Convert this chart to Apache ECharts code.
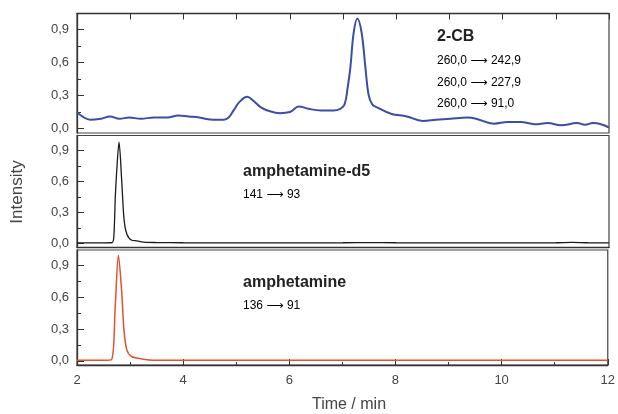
<!DOCTYPE html>
<html>
<head>
<meta charset="utf-8">
<script src="https://cdn.jsdelivr.net/npm/echarts@6/dist/echarts.min.js"></script>
<style>html,body{margin:0;padding:0;background:#fff;}#c{width:618px;height:414px;}</style>
</head>
<body>
<div id="c"></div>
<script>
// ---- data ----
var cbTime = [2.0,2.1,2.25,2.45,2.62,2.8,2.98,3.2,3.45,3.7,3.9,4.1,4.3,4.57,4.76,4.85,4.95,5.05,5.2,5.32,5.45,5.58,5.82,6.0,6.17,6.35,6.58,6.82,6.95,7.03,7.09,7.14,7.2,7.27,7.35,7.42,7.48,7.55,7.65,7.9,8.2,8.5,8.75,9.02,9.34,9.5,9.84,10.1,10.34,10.6,10.85,11.1,11.4,11.55,11.7,11.85,12.0];
var cbVal  = [0.15,0.11,0.08,0.09,0.11,0.09,0.10,0.09,0.10,0.10,0.12,0.11,0.10,0.08,0.08,0.10,0.17,0.24,0.29,0.25,0.195,0.165,0.14,0.15,0.20,0.18,0.165,0.165,0.18,0.22,0.38,0.56,0.87,1.0,0.87,0.56,0.31,0.22,0.19,0.135,0.11,0.07,0.08,0.09,0.10,0.09,0.045,0.06,0.06,0.04,0.05,0.03,0.05,0.035,0.05,0.04,0.01];

var d5Time = [2.0,2.5,2.65,2.69,2.72,2.75,2.79,2.84,2.885,2.94,3.03,3.12,3.25,3.5,4.0,5.0,6.0,7.0,7.5,8.0,9.0,10.0,11.0,11.3,11.6,12.0];
var d5Val  = [0.005,0.005,0.006,0.05,0.45,0.73,0.98,0.61,0.23,0.086,0.03,0.025,0.012,0.008,0.006,0.005,0.005,0.006,0.008,0.006,0.005,0.005,0.006,0.01,0.006,0.005];

var amTime = [2.0,2.5,2.65,2.72,2.78,2.84,2.885,2.94,3.03,3.25,3.45,4.0,6.0,8.0,10.0,12.0];
var amVal  = [0.005,0.005,0.01,0.51,0.995,0.665,0.29,0.10,0.04,0.015,0.005,0.004,0.004,0.004,0.004,0.004];

var xTicks = [2,4,6,8,10,12];
var yMajor = [0,0.3,0.6,0.9];
var yMinor = [0.15,0.45,0.75];

function pairs(t, v){ return t.map(function(x,i){ return [x, v[i]]; }); }

var chart = echarts.init(document.getElementById('c'));
var grids = [
  {left:77, right:9, top:13.5, height:119.5},
  {left:77, right:9, top:135.5, height:112},
  {left:77, right:9, top:250, height:115}
];
var yMin = -0.04, yMax = 1.045;
var labelStyle = {fontFamily:'Liberation Sans, Arial', fontSize:13, color:'#444'};
var axisLineStyle = {color:'#333', width:1.3};

var xAxes = [], yAxes = [];
grids.forEach(function(g,i){
  g.show = true; g.borderColor = '#444'; g.borderWidth = 1.2; g.containLabel = false;
  var xa = {type:'value', gridIndex:i, min:2, max:12, splitLine:{show:false},
    axisLine:{show:true, onZero:false, lineStyle:axisLineStyle}};
  if(i===0){
    xa.position='top'; xa.interval=1;
    xa.axisTick={show:true, inside:true, length:6, lineStyle:{color:'#333'}};
    xa.axisLabel={show:false};
  } else if(i===1){
    xa.axisTick={show:false}; xa.axisLabel={show:false};
  } else {
    xa.interval=2;
    xa.axisTick={show:true, inside:true, length:6, lineStyle:{color:'#333'}};
    xa.minorTick={show:true, splitNumber:2, length:3, lineStyle:{color:'#333'}};
    xa.axisLabel=Object.assign({show:true, margin:9}, labelStyle, {customValues: xTicks});
  }
  xAxes.push(xa);
  yAxes.push({type:'value', gridIndex:i, position:'left', min:yMin, max:yMax, splitLine:{show:false},
    axisLine:{show:true, onZero:false, lineStyle:axisLineStyle},
    axisTick:{show:true, inside:true, length:7, customValues:yMajor, lineStyle:{color:'#333'}},
    axisLabel:Object.assign({show:true, margin:8, customValues:yMajor,
      formatter:function(v){ return v.toFixed(1).replace('.', ','); }}, labelStyle)
  });
  yAxes.push({type:'value', gridIndex:i, position:'left', offset:0, min:yMin, max:yMax, splitLine:{show:false},
    axisLine:{show:false, onZero:false},
    axisTick:{show:true, inside:true, length:4, customValues:yMinor, lineStyle:{color:'#333'}},
    axisLabel:{show:false}
  });
});

var rich = {
  a:{fontFamily:'Liberation Sans, Arial', fontSize:12, color:'#444'},
  b:{fontFamily:'DejaVu Sans', fontSize:12, color:'#333'}
};
function B(x,y,s){ return {type:'text', x:x, y:y, style:{text:s, font:'bold 16px Liberation Sans, Arial', fill:'#222', verticalAlign:'middle'}}; }
function N(x,y,a,c){ return {type:'text', x:x, y:y, style:{text:'{a|'+a+' }{b|\u27F6}{a| '+c+'}', rich:rich, verticalAlign:'middle'}}; }

chart.setOption({
  animation:false,
  backgroundColor:'#fff',
  grid: grids,
  xAxis: xAxes,
  yAxis: yAxes,
  series: [
    {type:'line', xAxisIndex:0, yAxisIndex:0, data:pairs(cbTime, cbVal), smooth:0.4, showSymbol:false,
     lineStyle:{color:'#3b4ea6', width:2}},
    {type:'line', xAxisIndex:1, yAxisIndex:2, data:pairs(d5Time, d5Val), smooth:0.3, showSymbol:false,
     lineStyle:{color:'#1a1a1a', width:1.3}},
    {type:'line', xAxisIndex:2, yAxisIndex:4, data:pairs(amTime, amVal), smooth:0.3, showSymbol:false,
     lineStyle:{color:'#e5502f', width:1.5}}
  ],
  graphic: [
    B(437,37,'2-CB'),
    N(437,61,'260,0','242,9'),
    N(437,83,'260,0','227,9'),
    N(437,104,'260,0','91,0'),
    B(243,172,'amphetamine-d5'),
    N(243,195,'141','93'),
    B(243,283,'amphetamine'),
    N(243,306,'136','91'),
    {type:'text', x:17, y:192, rotation:Math.PI/2, style:{text:'Intensity', font:'17px Liberation Sans, Arial', fill:'#444', align:'center', verticalAlign:'middle'}},
    {type:'text', x:349, y:405, style:{text:'Time / min', font:'16px Liberation Sans, Arial', fill:'#444', align:'center', verticalAlign:'middle'}}
  ]
});
</script>
</body>
</html>
